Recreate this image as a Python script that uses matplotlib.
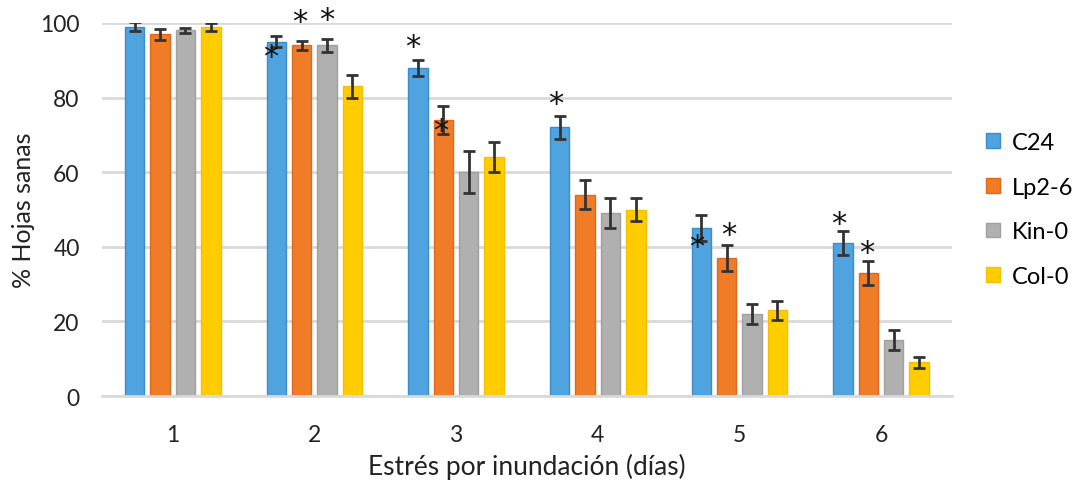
import numpy as np
import matplotlib
matplotlib.use("Agg")
import matplotlib.pyplot as plt

plt.rcParams['font.family'] = ['Lato', 'DejaVu Sans']

days = ['1', '2', '3', '4', '5', '6']
series = ['C24', 'Lp2-6', 'Kin-0', 'Col-0']

c24 = [99, 95, 88, 72, 45, 41]
c24_err = [1.2, 1.5, 2.2, 3.0, 3.5, 3.3]
lp = [97, 94, 74, 54, 37, 33]
lp_err = [1.5, 1.2, 3.7, 3.8, 3.5, 3.2]
kin = [98, 94, 60, 49, 22, 15]
kin_err = [0.7, 1.7, 5.7, 4.0, 2.7, 2.6]
col = [99, 83, 64, 50, 23, 9]
col_err = [1.1, 3.0, 4.0, 3.2, 2.5, 1.4]

# significance marks: day index, series index, height, shift (in bar widths)
star_day = [1, 1, 1, 2, 2, 3, 4, 4, 5, 5]
star_ser = [0, 1, 2, 0, 1, 0, 0, 1, 0, 1]
star_y = [92, 101.5, 102, 94.8, 72.4, 79.4, 41.2, 44.3, 47.3, 39.7]
star_dx = [-0.27, -0.13, 0.0, -0.27, -0.15, -0.2, -0.25, 0.1, -0.2, -0.07]

face = ['#4FA3DF', '#F07C28', '#B0B0B0', '#FFCC00']
edge = ['#3E8BC9', '#DD6A1C', '#A0A0A0', '#F5C000']

vals = [c24, lp, kin, col]
errs = [c24_err, lp_err, kin_err, col_err]

fig = plt.figure(figsize=(10.8, 4.89), dpi=100)
ax = fig.add_axes([0.0944, 0.188, 0.787, 0.763])

x = np.arange(len(days))
w = 0.137
step = 0.179
for i in range(4):
    xi = x + (i - 1.5) * step
    ax.bar(xi, vals[i], w, color=face[i], edgecolor=edge[i], linewidth=1,
           label=series[i], zorder=2)
    ax.errorbar(xi, vals[i], yerr=errs[i], fmt='none', ecolor='#333333',
                elinewidth=2, capsize=4.5, capthick=2, zorder=3)

for d, s, yv, dx in zip(star_day, star_ser, star_y, star_dx):
    xs = d + (s - 1.5) * step + dx * w
    ax.annotate('*', (xs, yv), xytext=(0, -3), textcoords='offset points',
                fontsize=22, ha='center', va='center', family='DejaVu Sans',
                color='#111111', zorder=4, annotation_clip=False)

ax.set_xlim(-0.5, 5.5)
ax.set_ylim(0, 100)
ax.set_yticks(np.arange(0, 101, 20))
ax.set_xticks(x)
ax.set_xticklabels(days)
ax.yaxis.grid(True, color='#D9D9D9', linewidth=2, zorder=0)
ax.set_axisbelow(True)
for sp in ['top', 'right', 'left']:
    ax.spines[sp].set_visible(False)
ax.spines['bottom'].set_color('#D9D9D9')
ax.spines['bottom'].set_linewidth(2)
ax.tick_params(axis='both', length=0, labelsize=16.5, colors='#222222')
ax.tick_params(axis='x', pad=20)
ax.tick_params(axis='y', pad=16)

ax.set_ylabel('% Hojas sanas', fontsize=18, color='#222222', labelpad=4)
ax.set_xlabel('Estrés por inundación (días)', fontsize=19, color='#222222', labelpad=6)

leg = ax.legend(loc='center left', bbox_to_anchor=(1.015, 0.5), frameon=False,
                fontsize=17, handlelength=0.6, handleheight=0.6,
                handletextpad=0.5, labelspacing=1.0)

fig.savefig('out.png', dpi=100)
